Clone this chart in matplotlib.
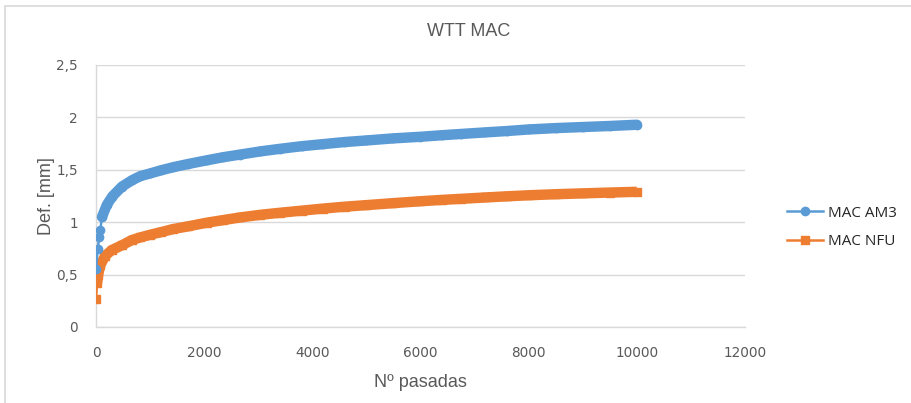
import matplotlib
matplotlib.use("Agg")
import matplotlib.pyplot as plt
from matplotlib.patches import Rectangle

# Wheel tracking test results (deformation vs. number of passes)
passes_am3 = [1, 30, 60, 80, 110, 200, 300, 480, 665, 820, 1000, 1200, 1430,
              1700, 2045, 2350, 2660, 3030, 3400, 3800, 4200, 4600, 5000,
              5500, 6000, 6400, 6750, 7200, 7600, 8000, 8500, 9000, 9500, 10000]
def_am3 = [0.55, 0.74, 0.855, 0.93, 1.05, 1.165, 1.245, 1.34, 1.40, 1.44,
           1.465, 1.495, 1.525, 1.555, 1.59, 1.62, 1.645, 1.675, 1.70, 1.725,
           1.745, 1.765, 1.78, 1.80, 1.815, 1.83, 1.842, 1.857, 1.87, 1.885,
           1.898, 1.908, 1.918, 1.93]

passes_nfu = [1, 20, 40, 80, 170, 295, 480, 665, 820, 1000, 1200, 1430, 1700,
              2045, 2350, 2660, 3030, 3400, 3800, 4200, 4600, 5000, 5500,
              6000, 6400, 6750, 7200, 7600, 8000, 8500, 9000, 9500, 10000]
def_nfu = [0.27, 0.42, 0.50, 0.59, 0.68, 0.735, 0.78, 0.83, 0.855, 0.88,
           0.905, 0.935, 0.96, 0.995, 1.02, 1.045, 1.07, 1.09, 1.11, 1.13,
           1.148, 1.163, 1.182, 1.2, 1.213, 1.223, 1.236, 1.247, 1.257, 1.267,
           1.275, 1.283, 1.29]

x_ticks = [0, 2000, 4000, 6000, 8000, 10000, 12000]
y_ticks = [0, 0.5, 1, 1.5, 2, 2.5]
y_labels = ["0", "0,5", "1", "1,5", "2", "2,5"]

blue = "#5B9BD5"
orange = "#ED7D31"
grey_txt = "#595959"
grid_c = "#D9D9D9"
sans = ["Liberation Sans", "DejaVu Sans"]

fig = plt.figure(figsize=(9.12, 4.03), dpi=100)
fig.patches.append(Rectangle((5 / 912, -0.1), 1.2, 1 - 6 / 403 + 0.1,
                             transform=fig.transFigure, fill=False,
                             edgecolor=grid_c, lw=1.2))
ax = fig.add_axes([96 / 912, 1 - 327 / 403, (745 - 96) / 912, (327 - 65) / 403])

# dense measurements render as a thick band; early points stay visible
ax.plot(passes_am3[4:], def_am3[4:], color=blue, lw=7.5,
        solid_capstyle="round", zorder=3)
ax.plot(passes_am3, def_am3, color=blue, lw=1.8, marker="o", ms=6,
        label="MAC AM3", zorder=5)
ax.plot(passes_nfu[1:], def_nfu[1:], color=orange, lw=7.5,
        solid_capstyle="butt", zorder=3)
ax.plot(passes_nfu, def_nfu, color=orange, lw=1.8, marker="s", ms=6,
        label="MAC NFU", zorder=4)

ax.set_xlim(0, 12000)
ax.set_ylim(0, 2.5)
ax.set_xticks(x_ticks)
ax.set_xticklabels([str(t) for t in x_ticks], family="DejaVu Sans",
                   fontsize=9.8, color=grey_txt)
ax.set_yticks(y_ticks)
ax.set_yticklabels(y_labels, family="DejaVu Sans", fontsize=9.8,
                   color=grey_txt)
ax.tick_params(axis="x", length=0, pad=14)
ax.tick_params(axis="y", length=0, pad=13)
ax.yaxis.grid(True, color=grid_c, lw=1)
ax.set_axisbelow(True)
for s in ["top", "right"]:
    ax.spines[s].set_visible(False)
for s in ["left", "bottom"]:
    ax.spines[s].set_color(grid_c)
    ax.spines[s].set_linewidth(1)

ax.set_xlabel("Nº pasadas", family=sans, fontsize=13, color=grey_txt,
              labelpad=10)
ax.set_ylabel("Def. [mm]", fontsize=13, color=grey_txt, labelpad=1,
              family=sans)
fig.text(469 / 912, 1 - 31 / 403, "WTT MAC", ha="center", va="center",
         family=sans, fontsize=13, color=grey_txt)

leg = ax.legend(loc="center left", bbox_to_anchor=(1.043, 0.38), frameon=False,
                handlelength=2.4, labelspacing=0.9, handletextpad=0.3,
                prop={"family": ["Open Sans", "DejaVu Sans"], "size": 11})
for t in leg.get_texts():
    t.set_color("#262626")

fig.savefig("out.png", dpi=100)
